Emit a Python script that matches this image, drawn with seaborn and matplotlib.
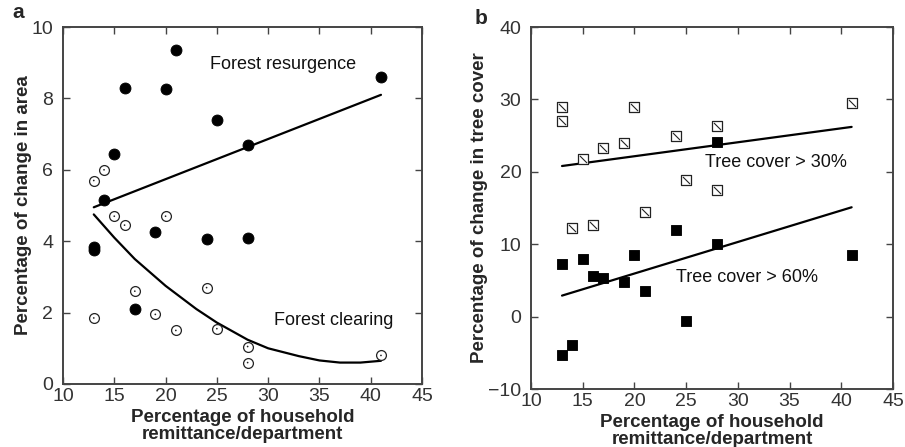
import matplotlib
matplotlib.use("Agg")
import matplotlib.pyplot as plt
from matplotlib.path import Path
import numpy as np
import pandas as pd
import seaborn as sns

## DATA ##
# panel a - forest resurgence (filled circles)
res_x = [13, 13, 14, 15, 16, 17, 19, 20, 21, 24, 25, 28, 28, 41]
res_y = [3.85, 3.75, 5.15, 6.45, 8.3, 2.1, 4.25, 8.25, 9.35, 4.05, 7.4, 6.7, 4.1, 8.6]
# panel a - forest clearing (open circles)
clr_x = [13, 13, 14, 15, 16, 17, 19, 20, 21, 24, 25, 28, 28, 41]
clr_y = [5.7, 1.85, 6.0, 4.7, 4.45, 2.6, 1.95, 4.7, 1.5, 2.7, 1.55, 1.05, 0.6, 0.8]
# fitted lines
res_fit_x = [13, 41]
res_fit_y = [4.95, 8.1]
clr_fit_x = [13, 15, 17, 20, 23, 25, 28, 30, 33, 35, 37, 39, 41]
clr_fit_y = [4.75, 4.1, 3.5, 2.75, 2.1, 1.72, 1.24, 1.0, 0.78, 0.66, 0.6, 0.6, 0.65]

# panel b - tree cover > 30% (hatched squares)
tc30_x = [13, 13, 14, 15, 16, 17, 19, 20, 21, 24, 25, 28, 28, 41]
tc30_y = [29.0, 27.0, 12.2, 21.7, 12.7, 23.3, 24.0, 29.0, 14.5, 25.0, 18.9, 26.3, 17.5, 29.5]
# panel b - tree cover > 60% (filled squares)
tc60_x = [13, 13, 14, 15, 16, 17, 19, 20, 21, 24, 25, 28, 28, 41]
tc60_y = [7.2, -5.3, -3.9, 7.9, 5.6, 5.4, 4.75, 8.5, 3.5, 12.0, -0.55, 24.1, 10.0, 8.5]
tc30_fit_x = [13, 41]
tc30_fit_y = [20.8, 26.2]
tc60_fit_x = [13, 41]
tc60_fit_y = [2.9, 15.1]

xticks = [10, 15, 20, 25, 30, 35, 40, 45]
xlabel = "Percentage of household\nremittance/department"

sns.set_style("ticks")
plt.rcParams['font.family'] = ['Liberation Sans', 'DejaVu Sans']

fig = plt.figure(figsize=(9.05, 4.47), dpi=100)
axa = fig.add_axes([63/905, 1-384/447, 359/905, 357/447])
axb = fig.add_axes([531/905, 1-389/447, 362/905, 362/447])

diag = Path([(-1, 1), (1, -1)], [Path.MOVETO, Path.LINETO])

# panel a
sns.lineplot(x=res_fit_x, y=res_fit_y, ax=axa, color="black", lw=1.6, sort=False)
sns.lineplot(x=clr_fit_x, y=clr_fit_y, ax=axa, color="black", lw=1.6, sort=False)
sns.scatterplot(x=res_x, y=res_y, ax=axa, marker="o", s=62, color="black",
                edgecolor="black", zorder=3)
sns.scatterplot(x=clr_x, y=clr_y, ax=axa, marker="o", s=50, facecolor="white",
                edgecolor="#222222", linewidth=0.9, zorder=3)
sns.scatterplot(x=clr_x, y=clr_y, ax=axa, marker="o", s=1.5, color="#222222",
                edgecolor="none", zorder=4)
axa.text(24.3, 8.95, "Forest resurgence", fontsize=13, va="center", ha="left", color="#111111")
axa.text(30.6, 1.77, "Forest clearing", fontsize=13, va="center", ha="left", color="#111111")
axa.set_xlim(10, 45)
axa.set_ylim(0, 10)
axa.set_yticks([0, 2, 4, 6, 8, 10])
axa.set_ylabel("Percentage of change in area", fontsize=13.5, fontweight="bold", labelpad=0)

# panel b
sns.lineplot(x=tc30_fit_x, y=tc30_fit_y, ax=axb, color="black", lw=1.6, sort=False)
sns.lineplot(x=tc60_fit_x, y=tc60_fit_y, ax=axb, color="black", lw=1.6, sort=False)
sns.scatterplot(x=tc30_x, y=tc30_y, ax=axb, marker="s", s=55, facecolor="white",
                edgecolor="#222222", linewidth=0.9, zorder=3)
sns.scatterplot(x=tc30_x, y=tc30_y, ax=axb, marker=diag, s=26, color="#222222",
                edgecolor="#222222", linewidth=0.8, zorder=4)
sns.scatterplot(x=tc60_x, y=tc60_y, ax=axb, marker="s", s=62, color="black",
                edgecolor="black", zorder=3)
axb.text(26.8, 21.3, "Tree cover > 30%", fontsize=13, va="center", ha="left", color="#111111")
axb.text(24.0, 5.4, "Tree cover > 60%", fontsize=13, va="center", ha="left", color="#111111")
axb.set_xlim(10, 45)
axb.set_ylim(-10, 40)
axb.set_yticks([-10, 0, 10, 20, 30, 40])
axb.set_ylabel("Percentage of change in tree cover", fontsize=13.5, fontweight="bold", labelpad=0)

for ax in (axa, axb):
    ax.set_xticks(xticks)
    ax.set_xlabel(xlabel, fontsize=13.5, fontweight="bold", labelpad=3, linespacing=1.0)
    ax.tick_params(direction="in", length=5, width=1, top=True, right=True,
                   labelsize=14, labelcolor="#333333", color="#444444")
    ax.tick_params(axis="x", pad=3)
    ax.tick_params(axis="y", pad=7)
    for sp in ax.spines.values():
        sp.set_visible(True)
        sp.set_color("#444444")
        sp.set_linewidth(1.4)

fig.text(18/905, 1-13/447, "a", fontsize=15, fontweight="bold", va="center", ha="center")
fig.text(481/905, 1-18/447, "b", fontsize=15, fontweight="bold", va="center", ha="center")

fig.savefig("out.png", dpi=100)
